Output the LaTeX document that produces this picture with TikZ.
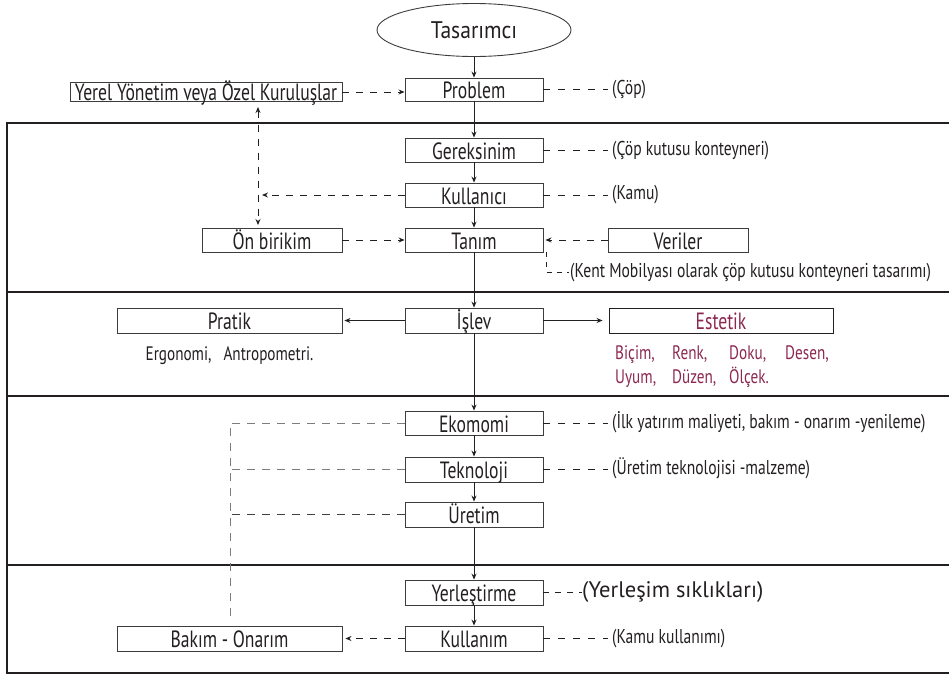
\documentclass[tikz,border=0pt]{standalone}
\usepackage{fontspec}
\setmainfont{PT Sans}[FakeStretch=0.8]
\newfontfamily\boxfont{PT Sans}[FakeStretch=0.75]
\newfontfamily\notefont{PT Sans}[FakeStretch=0.78]
\newfontfamily\headfont{PT Sans}[FakeStretch=0.9]
\newfontfamily\plainfont{PT Sans}
\usetikzlibrary{arrows.meta,shapes.geometric}
\definecolor{inkc}{RGB}{35,31,32}
\definecolor{framec}{RGB}{60,60,60}
\definecolor{wine}{RGB}{140,40,80}
\definecolor{dashgrey}{RGB}{125,125,125}
\begin{document}
\begin{tikzpicture}[x=1pt,y=-1pt,
  >={Stealth[length=6pt,width=5pt]},
  every node/.style={inner sep=0pt, text=inkc},
  stepbox/.style={draw=framec, line width=0.9pt, minimum width=138pt, minimum height=24pt,
    text height=19.5pt, text depth=1pt, font=\boxfont\fontsize{23.5}{25}\selectfont},
  sidebox/.style={stepbox, minimum width=#1},
  note/.style={anchor=base west, font=\notefont\fontsize{20}{22}\selectfont},
  wordnote/.style={anchor=base west, text=wine, font=\notefont\fontsize{19.5}{21}\selectfont},
  flow/.style={draw=inkc, line width=0.9pt, ->},
  dflow/.style={flow, dash pattern=on 7pt off 7pt},
  lead/.style={draw=inkc, line width=0.8pt, dash pattern=on 7pt off 8pt},
  greylead/.style={draw=dashgrey, line width=1pt, dash pattern=on 8pt off 7pt},
  section/.style={draw=inkc, line width=1.1pt}]
\useasboundingbox (0,0) rectangle (949,675);

% frame and section rules
\draw[section] (949,123) -- (7,123) -- (7,673) -- (949,673);
\draw[section] (7,292) -- (949,292);
\draw[section] (7,396) -- (949,396);
\draw[section] (7,565) -- (949,565);

% designer
\node[ellipse, draw=framec, line width=0.9pt, minimum width=194pt, minimum height=53pt,
  font=\headfont\fontsize{24}{26}\selectfont] (tas) at (474,30) {Tasarımcı};

% main column
\node[stepbox, minimum height=23pt] (prob) at (474,89.5) {Problem};
\node[stepbox] (gerek) at (474,150) {Gereksinim};
\node[stepbox] (kull) at (474,195) {Kullanıcı};
\node[stepbox] (tanim) at (474,240) {Tanım};
\node[stepbox, minimum height=25pt] (islev) at (474,320.5) {İşlev};
\node[stepbox] (ekom) at (474,423) {Ekomomi};
\node[stepbox, minimum height=25pt] (tekno) at (474,469.5) {Teknoloji};
\node[stepbox, minimum height=25pt] (uretim) at (474,514.5) {Üretim};
\node[stepbox, minimum height=25pt] (yerl) at (474,592.5) {Yerleştirme};
\node[stepbox, minimum height=25pt] (kullanim) at (474,638.5) {Kullanım};

% side boxes
\node[sidebox=272pt, minimum height=18pt, text height=17.5pt, text depth=1pt] (yerel) at (206,92) {Yerel Yönetim veya Özel Kuruluşlar};
\node[sidebox=140pt] (onb) at (272,240) {Ön birikim};
\node[sidebox=140pt] (veri) at (678,240) {Veriler};
\node[sidebox=225pt, minimum height=25pt] (pratik) at (229.5,320.5) {Pratik};
\node[sidebox=224pt, minimum height=25pt, draw=inkc, text=wine] (estetik) at (721,320.5) {Estetik};
\node[sidebox=225pt, minimum height=25pt] (bakim) at (229.5,638.5) {Bakım - Onarım};

% notes
\node[note] (cop) at (612,94) {(Çöp)};
\node[note] (copk) at (612,155) {(Çöp kutusu konteyneri)};
\node[note] (kamu) at (612,199.5) {(Kamu)};
\node[note] (kent) at (570,277) {(Kent Mobilyası olarak çöp kutusu konteyneri tasarımı)};
\node[note] (ilk) at (612,428) {(İlk yatırım maliyeti, bakım - onarım -yenileme)};
\node[note] (uretn) at (612,474) {(Üretim teknolojisi -malzeme)};
\node[anchor=base west, font=\plainfont\fontsize{22.5}{24}\selectfont] (siklik) at (582,597) {(Yerleşim sıklıkları)};
\node[note] (kamuk) at (612,643) {(Kamu kullanımı)};

\node[anchor=base, font=\notefont\fontsize{19.5}{21}\selectfont] (ergo) at (229.5,360) {Ergonomi,\hspace{12pt}Antropometri.};

\node[wordnote] (w1) at (615,359) {Biçim,};
\node[wordnote] (w2) at (672,359) {Renk,};
\node[wordnote] (w3) at (729,359) {Doku,};
\node[wordnote] (w4) at (785,359) {Desen,};
\node[wordnote] (w5) at (615,383) {Uyum,};
\node[wordnote] (w6) at (672,383) {Düzen,};
\node[wordnote] (w7) at (729,383) {Ölçek.};

% main flow
\draw[flow] (tas) -- (prob);
\draw[flow] (prob) -- (gerek);
\draw[flow] (gerek) -- (kull);
\draw[flow] (kull) -- (tanim);
\draw[flow] (tanim) -- (islev);
\draw[flow] (islev) -- (ekom);
\draw[flow] (ekom) -- (tekno);
\draw[flow] (tekno) -- (uretim);
\draw[flow] (uretim) -- (yerl);
\draw[flow] (yerl) -- (kullanim);
\draw[flow, shorten >=2pt] (islev) -- (pratik);
\draw[flow, shorten >=6pt] (islev) -- (estetik);

% dashed relations
\coordinate (vtop) at (258,107);
\coordinate (vbot) at (258,225);
\coordinate (kv) at (262,195);
\draw[dflow] (yerel.east) -- (yerel.east -| prob.west);
\draw[dflow, <->] (vtop) -- (vbot);
\draw[dflow] (kull.west) -- (kv);
\draw[dflow] (onb) -- (tanim);
\draw[dflow, shorten >=2pt] (veri) -- (tanim);
\draw[dflow, shorten >=3pt] (kullanim) -- (bakim);

% leaders to notes
\draw[lead] (prob.east) -- ([xshift=-4pt]prob.east -| cop.west);
\draw[lead] (gerek.east) -- ([xshift=-4pt]gerek.east -| copk.west);
\draw[lead] (kull.east) -- ([xshift=-4pt]kull.east -| kamu.west);
\draw[lead, dash pattern=on 5pt off 5pt] ([xshift=3pt]tanim.south east) |- ([xshift=-1pt]kent.west);
\draw[lead] (ekom.east) -- ([xshift=-4pt]ekom.east -| ilk.west);
\draw[lead] (tekno.east) -- ([xshift=-4pt]tekno.east -| uretn.west);
\draw[lead, dash pattern=on 6pt off 6pt] (yerl.east) -- (yerl.east -| siklik.west);
\draw[lead] (kullanim.east) -- ([xshift=-4pt]kullanim.east -| kamuk.west);

% maintenance feedback
\coordinate (gfoot) at (230,618);
\draw[greylead] (ekom.west) -| (gfoot);
\draw[greylead] (tekno.west) -- (tekno.west -| gfoot);
\draw[greylead, draw=inkc!85] (uretim.west) -- (uretim.west -| gfoot);
\end{tikzpicture}
\end{document}
